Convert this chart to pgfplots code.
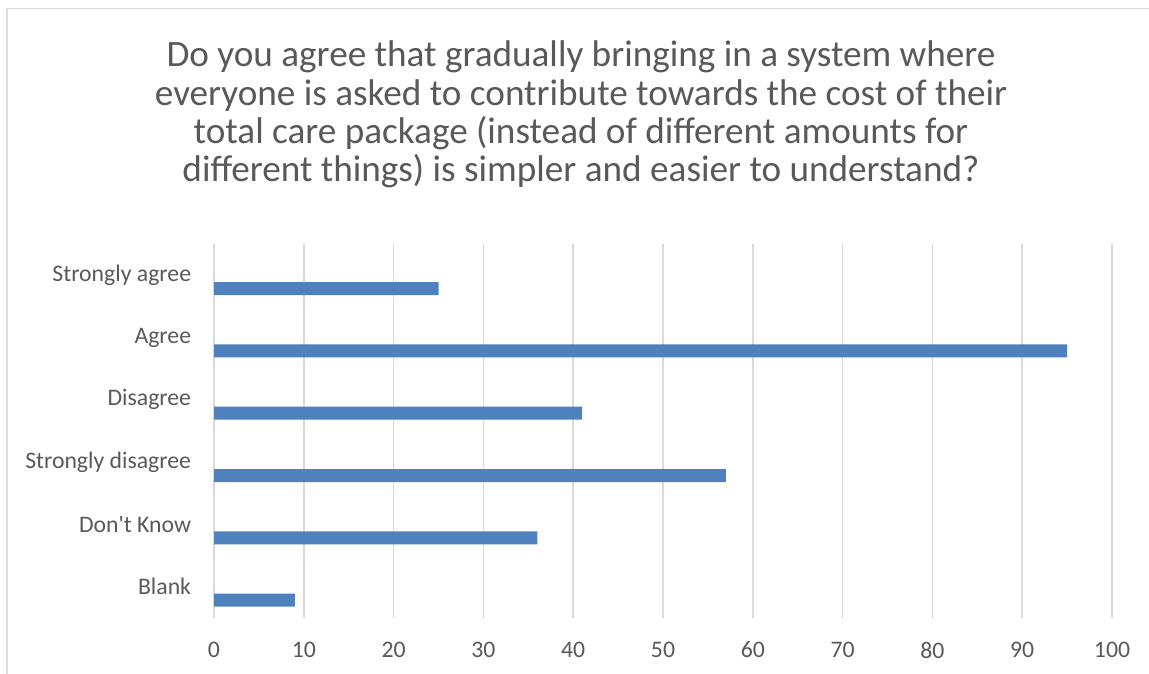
\documentclass[border=0pt]{standalone}
\usepackage{pgfplots}
\pgfplotsset{compat=1.18}
\usepackage{fontspec}
\setmainfont{Carlito}

\definecolor{bartblue}{HTML}{4F81BD}
\definecolor{txtgray}{HTML}{595959}
\definecolor{gridgray}{HTML}{D9D9D9}

\begin{document}
\begin{tikzpicture}
% chart area frame (only top and left edges show in the crop)
\draw[gridgray, line width=1.2pt] (5.25pt,-680pt) -- (5.25pt,-6.4pt) -- (870pt,-6.4pt);

\node[align=center, text=txtgray, font=\fontsize{27.9}{28.7}\selectfont]
  at (435.75pt,-86pt)
  {Do you agree that gradually bringing in a system where\\
   everyone is asked to contribute towards the cost of their\\
   total care package (instead of different amounts for\\
   different things) is simpler and easier to understand?};

\begin{axis}[
    at={(160.5pt,-463.5pt)}, anchor=south west,
    scale only axis,
    width=673.5pt, height=280.5pt,
    xbar, bar width=9.75pt, bar shift=-10pt,
    xmin=0, xmax=100,
    ymin=-0.5, ymax=5.5,
    xtick={0,10,...,100},
    ytick={0,1,2,3,4,5},
    yticklabels={Blank,Don\textquotesingle t Know,Strongly disagree,Disagree,Agree,Strongly agree},
    xmajorgrids=true,
    major grid style={gridgray, line width=1.1pt},
    axis line style={draw=none},
    tick style={draw=none},
    /pgf/number format/assume math mode=true,
    ticklabel style={text=txtgray, font=\fontsize{17.8}{20}\selectfont},
    xticklabel style={anchor=center, yshift=-24pt},
    yticklabel style={anchor=east, inner sep=0pt, xshift=-12.75pt},
]
\addplot[fill=bartblue, draw=none] coordinates {
  (9,0) (36,1) (57,2) (41,3) (95,4) (25,5)
};
\end{axis}

\pgfresetboundingbox
\path[use as bounding box] (0pt,0pt) rectangle (861.75pt,-505.5pt);
\end{tikzpicture}
\end{document}
